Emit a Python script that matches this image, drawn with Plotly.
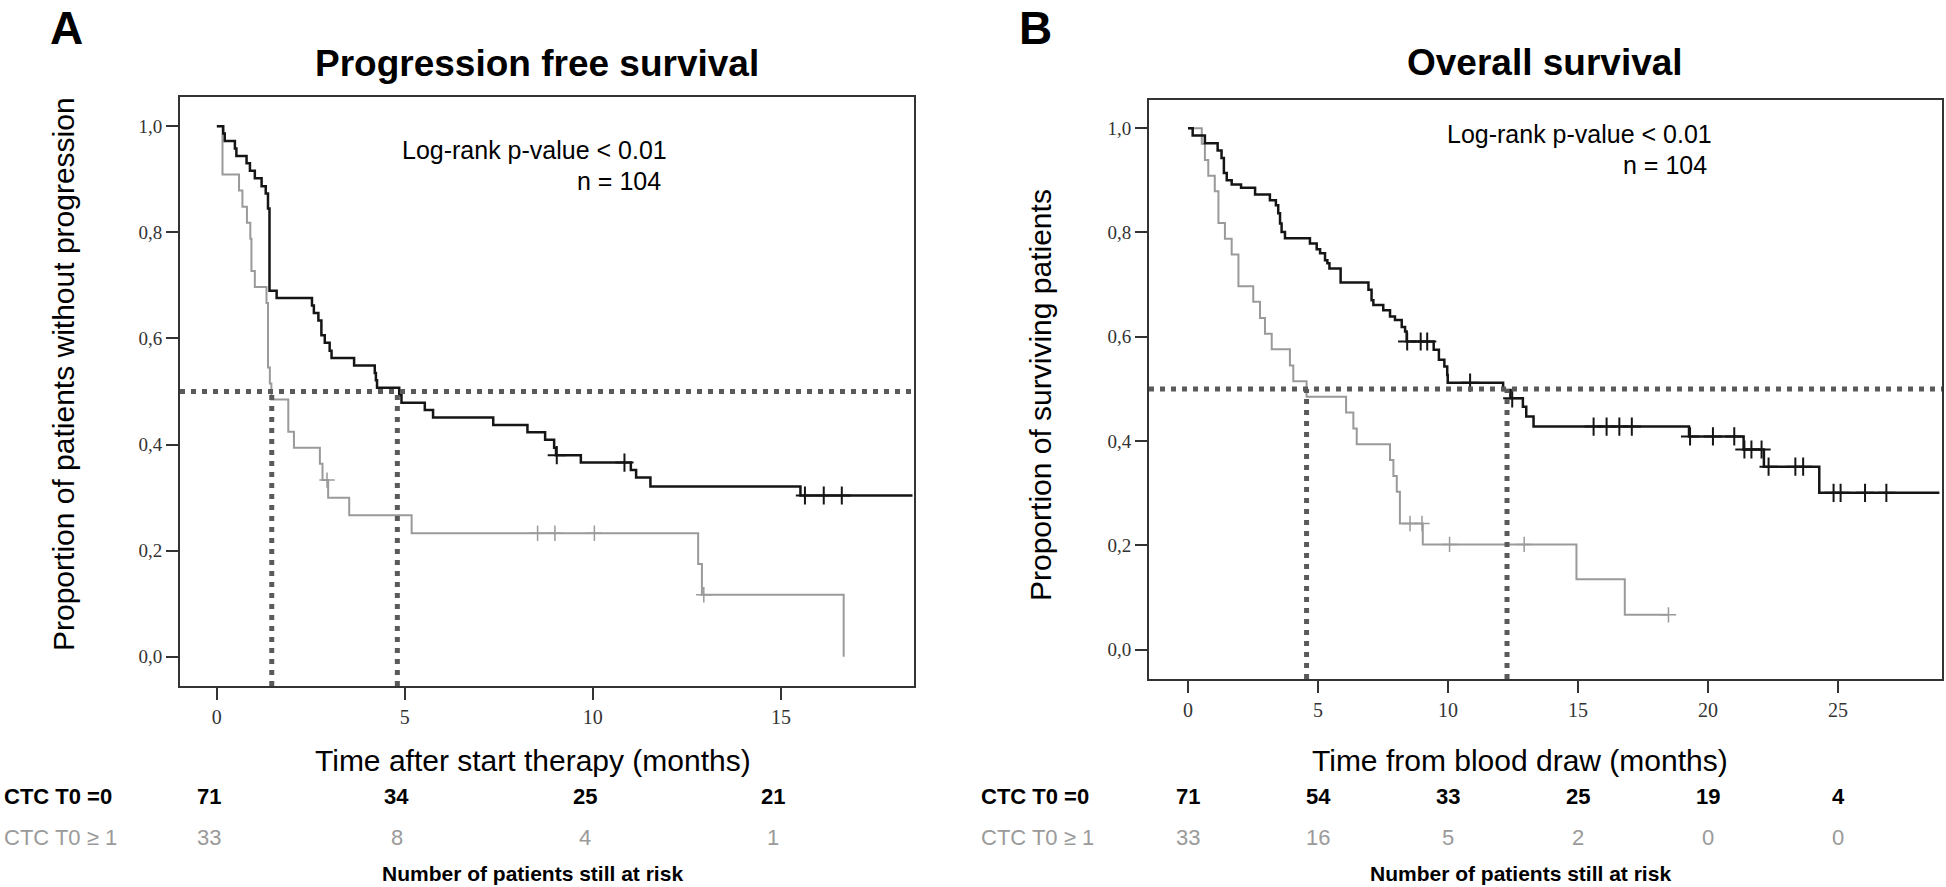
import plotly.graph_objects as go

# Progression free survival (panel A), months after start of therapy
pfs_t0_time = [0, 0.17, 0.21, 0.48, 0.52, 0.79, 0.88, 1.01, 1.19, 1.30, 1.36, 1.40, 1.59,
               2.53, 2.58, 2.70, 2.78, 2.87, 3.00, 3.05, 3.65, 4.20, 4.23, 4.26, 4.85,
               4.91, 5.53, 5.75, 7.35, 8.26, 8.73, 8.97, 9.02, 9.68, 11.01, 11.15, 11.53,
               15.52, 18.5]
pfs_t0_surv = [1.0, 0.986, 0.972, 0.958, 0.944, 0.930, 0.916, 0.902, 0.887, 0.873, 0.845,
               0.690, 0.676, 0.662, 0.648, 0.634, 0.606, 0.592, 0.577, 0.563, 0.549, 0.535,
               0.521, 0.507, 0.493, 0.479, 0.465, 0.451, 0.437, 0.423, 0.409, 0.394, 0.380,
               0.366, 0.352, 0.338, 0.321, 0.304, 0.304]
pfs_t0_cens = [9.04, 10.84, 15.64, 16.14, 16.62]

pfs_t1_time = [0, 0.15, 0.59, 0.68, 0.80, 0.89, 0.92, 1.01, 1.32, 1.36, 1.41, 1.45, 1.90,
               2.05, 2.74, 2.81, 2.96, 3.52, 5.18, 12.80, 12.90, 16.67]
pfs_t1_surv = [1.0, 0.909, 0.879, 0.848, 0.818, 0.788, 0.727, 0.697, 0.667, 0.545, 0.515,
               0.485, 0.424, 0.394, 0.364, 0.333, 0.300, 0.267, 0.233, 0.175, 0.117, 0.0]
pfs_t1_cens = [2.93, 8.53, 8.99, 10.04, 12.95]
pfs_medians = [1.46, 4.80]

# Overall survival (panel B), months from blood draw
os_t0_time = [0, 0.18, 0.65, 1.14, 1.29, 1.38, 1.49, 1.68, 2.04, 2.58, 3.15, 3.38, 3.47,
              3.54, 3.60, 3.73, 4.69, 4.95, 5.08, 5.27, 5.36, 5.44, 5.87, 6.94, 7.06, 7.13,
              7.51, 7.77, 7.96, 8.22, 8.35, 8.41, 9.45, 9.65, 9.86, 9.97, 9.99, 12.12,
              12.40, 12.88, 13.01, 13.29, 19.27, 21.37, 22.15, 24.28, 28.9]
os_t0_surv = [1.0, 0.986, 0.971, 0.957, 0.943, 0.914, 0.900, 0.892, 0.886, 0.873, 0.862,
              0.852, 0.837, 0.817, 0.801, 0.789, 0.779, 0.768, 0.760, 0.747, 0.741, 0.731,
              0.704, 0.690, 0.670, 0.661, 0.651, 0.639, 0.632, 0.619, 0.610, 0.591, 0.575,
              0.556, 0.543, 0.527, 0.512, 0.498, 0.482, 0.466, 0.447, 0.428, 0.409, 0.384,
              0.351, 0.301, 0.301]
os_t0_cens = [8.43, 8.95, 9.20, 10.85, 12.47, 15.60, 16.10, 16.59, 17.07, 19.31, 20.19,
              21.01, 21.40, 21.67, 22.06, 22.33, 23.36, 23.66, 24.83, 25.10, 26.04, 26.86]

os_t1_time = [0, 0.53, 0.65, 0.78, 1.03, 1.17, 1.42, 1.68, 1.94, 2.51, 2.77, 2.96, 3.22,
              3.92, 4.05, 4.56, 6.08, 6.36, 6.49, 7.77, 7.90, 8.03, 8.15, 9.03, 14.94,
              16.80, 18.48]
os_t1_surv = [1.0, 0.970, 0.939, 0.909, 0.879, 0.818, 0.788, 0.758, 0.697, 0.667, 0.636,
              0.606, 0.576, 0.545, 0.515, 0.485, 0.455, 0.424, 0.394, 0.364, 0.333, 0.303,
              0.242, 0.202, 0.135, 0.067, 0.067]
os_t1_cens = [8.54, 9.00, 10.06, 12.93, 18.48]
os_medians = [4.56, 12.27]

# numbers at risk
pfs_risk_times = [0, 5, 10, 15]
pfs_risk_t0 = [71, 34, 25, 21]
pfs_risk_t1 = [33, 8, 4, 1]
os_risk_times = [0, 5, 10, 15, 20, 25]
os_risk_t0 = [71, 54, 33, 25, 19, 4]
os_risk_t1 = [33, 16, 5, 2, 0, 0]

W, H = 1946, 887
BLACK = "#151515"
GREY = "#9a9a9a"
DOT = "#5a5a5a"
SANS = "Liberation Sans, Arial, sans-serif"
SERIF = "Liberation Serif, Times New Roman, serif"


def step_at(times, surv, t):
    val = surv[0]
    for ti, si in zip(times, surv):
        if ti <= t:
            val = si
    return val


def px(x):
    return x / W


def py(y):
    return 1 - y / H


fig = go.Figure()

panels = [
    ("x", "y", pfs_t0_time, pfs_t0_surv, pfs_t0_cens, pfs_t1_time, pfs_t1_surv, pfs_t1_cens),
    ("x2", "y2", os_t0_time, os_t0_surv, os_t0_cens, os_t1_time, os_t1_surv, os_t1_cens),
]
for xa, ya, t0, s0, c0, t1, s1, c1 in panels:
    fig.add_trace(go.Scatter(x=t1, y=s1, mode="lines", line=dict(color=GREY, width=2, shape="hv"),
                             xaxis=xa, yaxis=ya, showlegend=False))
    fig.add_trace(go.Scatter(x=c1, y=[step_at(t1, s1, c) for c in c1], mode="markers",
                             marker=dict(symbol="cross-thin", size=11, line=dict(color=GREY, width=1.5)),
                             xaxis=xa, yaxis=ya, showlegend=False))
    fig.add_trace(go.Scatter(x=t0, y=s0, mode="lines", line=dict(color=BLACK, width=2.5, shape="hv"),
                             xaxis=xa, yaxis=ya, showlegend=False))
    fig.add_trace(go.Scatter(x=c0, y=[step_at(t0, s0, c) for c in c0], mode="markers",
                             marker=dict(symbol="cross-thin", size=13, line=dict(color=BLACK, width=2)),
                             xaxis=xa, yaxis=ya, showlegend=False))

# median lines
for xa, ya, meds, ybot in [("x", "y", pfs_medians, -0.055), ("x2", "y2", os_medians, -0.056)]:
    fig.add_shape(type="line", xref=xa + " domain", yref=ya, x0=0, x1=1, y0=0.5, y1=0.5,
                  line=dict(color=DOT, width=5, dash="5px,6px"))
    for m in meds:
        fig.add_shape(type="line", xref=xa, yref=ya, x0=m, x1=m, y0=ybot, y1=0.5,
                      line=dict(color=DOT, width=5, dash="5px,6px"))

axis_common = dict(showgrid=False, zeroline=False, showline=True, mirror=True,
                   linecolor="#333333", linewidth=2, ticks="outside", ticklen=12,
                   tickwidth=2, tickcolor="#333333")

fig.update_layout(
    width=W, height=H, margin=dict(l=0, r=0, t=0, b=0),
    paper_bgcolor="white", plot_bgcolor="white", separators=",.",
    xaxis=dict(domain=[px(180), px(914)], range=[-0.98, 18.54], anchor="y",
               tickvals=[0, 5, 10, 15], tickfont=dict(family=SERIF, size=20, color="#333333"),
               **axis_common),
    yaxis=dict(domain=[py(686), py(97)], range=[-0.055, 1.055], anchor="x",
               tickvals=[0, 0.2, 0.4, 0.6, 0.8, 1.0], tickformat=".1f",
               tickfont=dict(family=SERIF, size=19, color="#333333"), **axis_common),
    xaxis2=dict(domain=[px(1149), px(1942)], range=[-1.5, 29.0], anchor="y2",
                tickvals=[0, 5, 10, 15, 20, 25], tickfont=dict(family=SERIF, size=20, color="#333333"),
                **axis_common),
    yaxis2=dict(domain=[py(679), py(100)], range=[-0.056, 1.054], anchor="x2",
                tickvals=[0, 0.2, 0.4, 0.6, 0.8, 1.0], tickformat=".1f",
                tickfont=dict(family=SERIF, size=19, color="#333333"), **axis_common),
)


def label(text, x, y, size, bold=False, color="black", xanchor="center", angle=0):
    if bold:
        text = "<b>" + text + "</b>"
    fig.add_annotation(text=text, x=px(x), y=py(y), xref="paper", yref="paper",
                       xanchor=xanchor, yanchor="middle", showarrow=False, textangle=angle,
                       font=dict(family=SANS, size=size, color=color))


label("A", 66, 28, 46, bold=True)
label("B", 1035, 28, 46, bold=True)
label("Progression free survival", 537, 63, 37, bold=True)
label("Overall survival", 1545, 62, 37, bold=True)
label("Log-rank p-value &lt; 0.01", 669, 150, 25, xanchor="right")
label("n = 104", 663, 181, 25, xanchor="right")
label("Log-rank p-value &lt; 0.01", 1714, 134, 25, xanchor="right")
label("n = 104", 1709, 165, 25, xanchor="right")
label("Proportion of patients without progression", 64, 374, 30, angle=-90)
label("Proportion of surviving patients", 1040, 395, 30, angle=-90)
label("Time after start therapy (months)", 533, 760, 30)
label("Time from blood draw (months)", 1520, 760, 30)

for left, xa, times, r0, r1, shift, centre in [
    (2, "x", pfs_risk_times, pfs_risk_t0, pfs_risk_t1, -8, 532),
    (979, "x2", os_risk_times, os_risk_t0, os_risk_t1, 0, 1520),
]:
    label("CTC T0 =0", left, 796, 22, bold=True, xanchor="left")
    label("CTC T0 ≥ 1", left, 837, 22, color=GREY, xanchor="left")
    for t, a, b in zip(times, r0, r1):
        fig.add_annotation(text="<b>%d</b>" % a, x=t, y=py(796), xref=xa, yref="paper",
                           xshift=shift, showarrow=False, yanchor="middle",
                           font=dict(family=SANS, size=22, color="black"))
        fig.add_annotation(text="%d" % b, x=t, y=py(837), xref=xa, yref="paper",
                           xshift=shift, showarrow=False, yanchor="middle",
                           font=dict(family=SANS, size=22, color=GREY))
    label("Number of patients still at risk", centre, 873, 21, bold=True)

fig.write_html("out.html", config={"displayModeBar": False},
               post_script="document.body.style.margin='0';document.body.style.overflow='hidden';")
